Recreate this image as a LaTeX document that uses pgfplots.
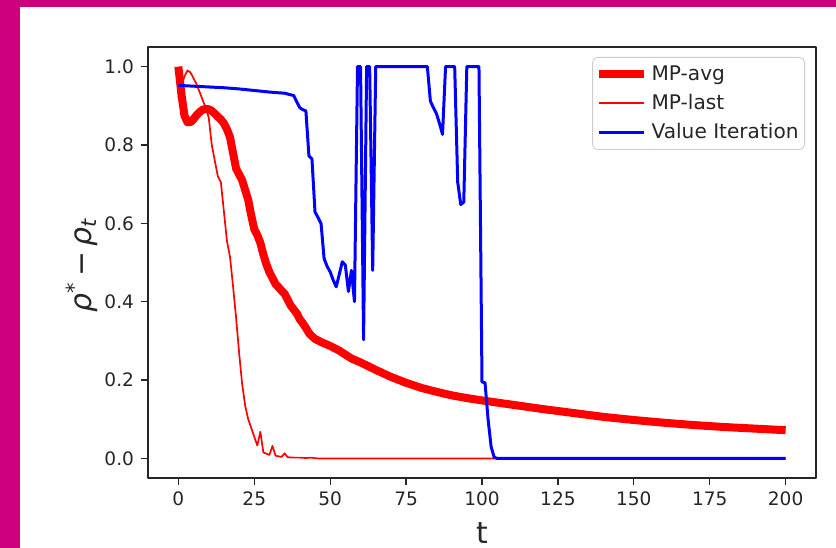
\documentclass[border=0pt]{standalone}
\usepackage{pgfplots}
\pgfplotsset{compat=1.18}
\usepackage{fontspec}
\setmainfont{DejaVu Sans}
\definecolor{mag}{RGB}{204,0,122}
\begin{document}
\begin{tikzpicture}
\fill[white] (0,0) rectangle (418bp,274bp);
\fill[mag] (0,0) rectangle (10bp,274bp);
\fill[mag] (0,270.5bp) rectangle (418bp,274bp);
\begin{axis}[
  at={(74bp,35bp)}, anchor=south west,
  scale only axis, width=334bp, height=215.5bp,
  xmin=-10, xmax=210, ymin=-0.05, ymax=1.05,
  xtick={0,25,50,75,100,125,150,175,200},
  ytick={0,0.2,0.4,0.6,0.8,1.0},
  yticklabel style={/pgf/number format/.cd, fixed, fixed zerofill, precision=1},
  /pgf/number format/assume math mode=true,
  tick label style={font=\fontsize{9.3}{11}\selectfont, black!85},
  tick align=outside, tick pos=left, major tick length=3.5bp,
  every tick/.style={black!85, line width=0.6bp},
  axis line style={black!85, line width=0.8bp},
  xlabel={t},
  xlabel style={font=\fontsize{15}{16}\selectfont, black!85, at={(axis description cs:0.5,0)}, anchor=base, yshift=-32.5bp},
  ylabel={\textit{ρ}\textsuperscript{*}\,−\,\textit{ρ}\textsubscript{\textit{t}}},
  ylabel style={font=\fontsize{15}{16}\selectfont, black!85, at={(axis description cs:-0.0988,0.494)}, anchor=center},
  legend cell align=left,
  legend style={at={(axis description cs:1,1)}, anchor=north east, xshift=-5.5bp, yshift=-5bp,
    draw=black!20, rounded corners=2.5bp, font=\fontsize{10.1}{12}\selectfont, text=black!85,
    inner xsep=1bp, inner ysep=2bp, row sep=1.5bp},
  legend image code/.code={\draw[#1] (-4bp,0bp) -- (18.5bp,0bp);},
  line join=round,
]
\addplot[red, line width=4bp, line cap=butt] coordinates {
(0,1.0)(1,0.93)(2,0.875)(3,0.858)(4,0.858)(5,0.866)(6,0.876)(7,0.884)(8,0.89)(9,0.892)
(10,0.891)(11,0.887)(12,0.88)(13,0.872)(14,0.865)(15,0.855)(16,0.84)(17,0.82)(18,0.78)(19,0.74)
(20,0.725)(21,0.71)(22,0.685)(23,0.66)(24,0.62)(25,0.585)(26,0.57)(27,0.55)(28,0.52)(29,0.495)
(30,0.475)(31,0.46)(32,0.445)(33,0.437)(34,0.428)(35,0.42)(36,0.405)(37,0.39)(38,0.38)(39,0.37)
(40,0.355)(41,0.345)(42,0.333)(43,0.32)(44,0.312)(45,0.305)(47,0.297)(50,0.287)(53,0.275)(55,0.265)
(57,0.255)(60,0.245)(65,0.226)(70,0.208)(75,0.193)(80,0.18)(85,0.17)(90,0.161)(95,0.154)(100,0.148)
(110,0.137)(120,0.126)(130,0.116)(140,0.106)(150,0.098)(160,0.091)(170,0.085)(180,0.080)(190,0.076)(200,0.072)
};
\addlegendentry{MP-avg}
\addplot[red, line width=0.85bp] coordinates {
(0,0.92)(1,0.95)(2,0.975)(3,0.99)(4,0.985)(5,0.97)(6,0.955)(7,0.935)(8,0.915)(9,0.895)
(10,0.87)(11,0.80)(12,0.76)(13,0.72)(14,0.705)(15,0.63)(16,0.555)(17,0.515)(18,0.44)(19,0.36)
(20,0.27)(21,0.19)(22,0.135)(23,0.1)(24,0.078)(25,0.055)(26,0.033)(27,0.068)(28,0.015)(29,0.012)
(30,0.009)(31,0.032)(32,0.007)(33,0.005)(34,0.004)(35,0.013)(36,0.003)(38,0.002)(40,0.002)(42,0.001)
(44,0.002)(45,0.0005)(46,0)(200,0)
};
\addlegendentry{MP-last}
\addplot[blue, line width=1.5bp] coordinates {
(0,0.952)(5,0.950)(10,0.948)(15,0.946)(20,0.943)(25,0.939)(30,0.935)(35,0.932)(37,0.928)(38,0.926)
(39,0.91)(40,0.895)(41,0.89)(42,0.887)(43,0.772)(44,0.764)(45,0.629)(46,0.615)(47,0.599)(48,0.510)
(49,0.49)(50,0.476)(51,0.455)(52,0.438)(53,0.47)(54,0.502)(55,0.493)(56,0.426)(57,0.480)(58,0.400)
(59,1.0)(60,1.0)(61,0.303)(62,1.0)(63,1.0)(64,0.480)(65,1.0)(82,1.0)(83,0.912)(84,0.895)
(85,0.880)(86,0.855)(87,0.827)(88,1.0)(91,1.0)(92,0.705)(93,0.648)(94,0.654)(95,1.0)(99,1.0)
(100,0.195)(101,0.193)(102,0.10)(103,0.03)(104,0.003)(105,0)(200,0)
};
\addlegendentry{Value Iteration}
\end{axis}
\pgfresetboundingbox
\path[use as bounding box] (0,0) rectangle (418bp,274bp);
\end{tikzpicture}
\end{document}
